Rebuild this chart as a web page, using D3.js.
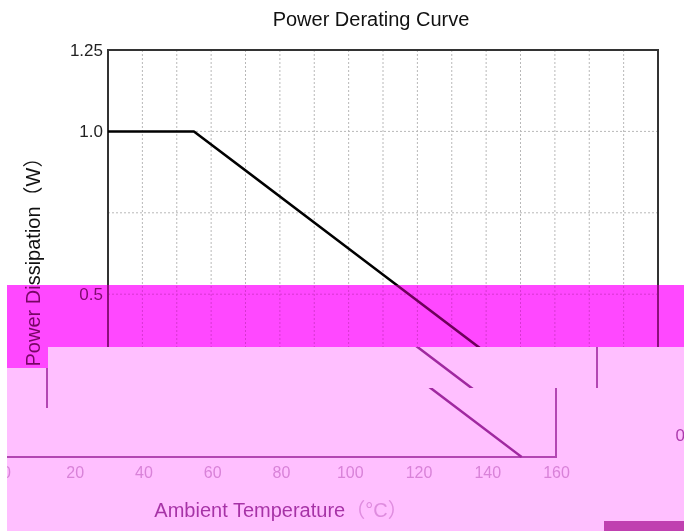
<!DOCTYPE html>
<html><head><meta charset="utf-8">
<script src="https://cdn.jsdelivr.net/npm/d3@7"></script>
<style>body{margin:0;background:#fff}svg{display:block}</style>
</head><body>
<svg id="c" width="684" height="531"></svg>
<script>
// ---- data ----
const temperature = [0, 25, 150];          // °C
const power = [1.0, 1.0, 0.0];             // W
const xTicks = [0, 20, 40, 60, 80, 100, 120, 140, 160];
const xGrid = [10, 20, 30, 40, 50, 60, 70, 80, 90, 100, 110, 120, 130, 140, 150];
const yTicks = [0.5, 1.0, 1.25];
const yTickLabels = ["0.5", "1.0", "1.25"];
const yZeroTick = [0];
const yZeroLabel = ["0"];
const yGrid = [0.25, 0.5, 0.75, 1.0];
const titleText = "Power Derating Curve";
const xTitle = "Ambient Temperature";
const xUnit = "（°C）";
const yTitle = "Power Dissipation（W）";

const W = 684, H = 531;
const FONT = "'Liberation Sans', Arial, 'Noto Sans CJK SC', sans-serif";
const svg = d3.select("#c");
const x = d3.scaleLinear().domain([0, 160]).range([108, 658]);
const y = d3.scaleLinear().domain([0, 1.25]).range([457, 50]);

// ---- defs: clips & tints (reproducing the damaged bands of the reference) ----
const defs = svg.append("defs");
function clip(id, pts) {
  defs.append("clipPath").attr("id", id).append("polygon")
    .attr("points", pts.map(p => p.join(",")).join(" "));
}
const bandA = [[7,285],[W,285],[W,347],[48,347],[48,368],[7,368]];
clip("cA", bandA);
clip("cB", [[48,347],[W,347],[W,388],[48,388],[48,408],[7,408],[7,368],[48,368]]);
clip("cC", [[48,388],[582,388],[582,H],[7,H],[7,408],[48,408]]);
clip("cCw", [[582,388],[W,388],[W,H],[582,H]]);
function tint(id, r, g, b) {
  const f = defs.append("filter").attr("id", id)
    .attr("color-interpolation-filters", "sRGB")
    .attr("filterUnits", "userSpaceOnUse")
    .attr("x", 0).attr("y", 0).attr("width", W).attr("height", H);
  const t = f.append("feComponentTransfer");
  [["feFuncR", r], ["feFuncG", g], ["feFuncB", b]].forEach(([n, [lo, hi]]) =>
    t.append(n).attr("type", "linear")
      .attr("slope", (hi - lo) / 255).attr("intercept", lo / 255));
}
tint("tP", [160, 255], [40, 191], [160, 255]);

// ---- chart parts ----
function bg(g) {
  g.append("rect").attr("x", -800).attr("y", -100).attr("width", 2400).attr("height", 800).attr("fill", "#fff");
}
function gridPart(g) {
  const grid = g.append("g").attr("stroke", "#b8b8b8").attr("stroke-width", 1).attr("stroke-dasharray", "2,2");
  grid.selectAll(".vx").data(xGrid).join("line")
    .attr("x1", d => x(d)).attr("x2", d => x(d)).attr("y1", y(1.25)).attr("y2", y(0));
  grid.selectAll(".hy").data(yGrid).join("line")
    .attr("x1", x(0)).attr("x2", x(160)).attr("y1", d => y(d)).attr("y2", d => y(d));
}
function framePart(g) {
  g.append("rect").attr("x", x(0)).attr("y", y(1.25))
    .attr("width", x(160) - x(0)).attr("height", y(0) - y(1.25))
    .attr("fill", "none").attr("stroke", "#333").attr("stroke-width", 2);
}
function linePart(g) {
  g.append("path")
    .datum(temperature.map((t, i) => [t, power[i]]))
    .attr("fill", "none").attr("stroke", "#000").attr("stroke-width", 2.5)
    .attr("stroke-linejoin", "round")
    .attr("d", d3.line().x(d => x(d[0])).y(d => y(d[1])));
}
function yAxisPart(g, vals, labels) {
  const ay = g.append("g").attr("transform", `translate(${x(0)},0)`)
    .call(d3.axisLeft(y).tickValues(vals).tickSize(0).tickPadding(5)
      .tickFormat((d, i) => labels[i]));
  ay.select(".domain").remove();
  ay.selectAll("text").attr("font-family", FONT).attr("font-size", 17).attr("fill", "#222");
}
function xAxisPart(g) {
  const ax = g.append("g").attr("transform", `translate(0,${y(0)})`)
    .call(d3.axisBottom(x).tickValues(xTicks).tickSize(0).tickPadding(10).tickFormat(d3.format("d")));
  ax.select(".domain").remove();
  ax.selectAll("text").attr("font-family", FONT).attr("font-size", 16).attr("fill", "#999");
  const xt = g.append("text").attr("x", 383).attr("y", 517).attr("text-anchor", "middle")
    .attr("font-family", FONT).attr("font-size", 20).attr("fill", "#111");
  xt.append("tspan").text(xTitle);
  xt.append("tspan").attr("fill", "#aaa").text(xUnit);
}
function titlePart(g) {
  g.append("text").attr("x", 371).attr("y", 26).attr("text-anchor", "middle")
    .attr("font-family", FONT).attr("font-size", 20).attr("fill", "#111").text(titleText);
  g.append("text").attr("transform", "translate(40,257) rotate(-90)").attr("text-anchor", "middle")
    .attr("font-family", FONT).attr("font-size", 20).attr("fill", "#111").text(yTitle);
}

// main (undamaged) layer
const main = svg.append("g");
gridPart(main); framePart(main); linePart(main);
yAxisPart(main, yTicks, yTickLabels); titlePart(main);

// band A: magenta tint over the unshifted chart (multiply then screen)
const poly = bandA.map(p => p.join(",")).join(" ");
svg.append("polygon").attr("points", poly).attr("fill", "rgb(255,72,255)").style("mix-blend-mode", "multiply");
svg.append("polygon").attr("points", poly).attr("fill", "rgb(110,0,90)").style("mix-blend-mode", "screen");

// shifted, pink-tinted bands
function layer(clipId, dx, dy, parts) {
  const outer = svg.append("g").attr("clip-path", `url(#${clipId})`);
  const mid = outer.append("g").attr("filter", "url(#tP)");
  const g = mid.append("g").attr("transform", `translate(${dx},${dy})`);
  bg(g);
  parts.forEach(p => p(g));
}
layer("cB", -61, 0, [framePart, linePart]);
layer("cC", -102, 0, [framePart, linePart, xAxisPart]);
layer("cCw", 582, -22, [g => yAxisPart(g, yZeroTick, yZeroLabel)]);

svg.append("rect").attr("x", 604).attr("y", 521).attr("width", 80).attr("height", 10).attr("fill", "#c040b0");
</script>
</body></html>
